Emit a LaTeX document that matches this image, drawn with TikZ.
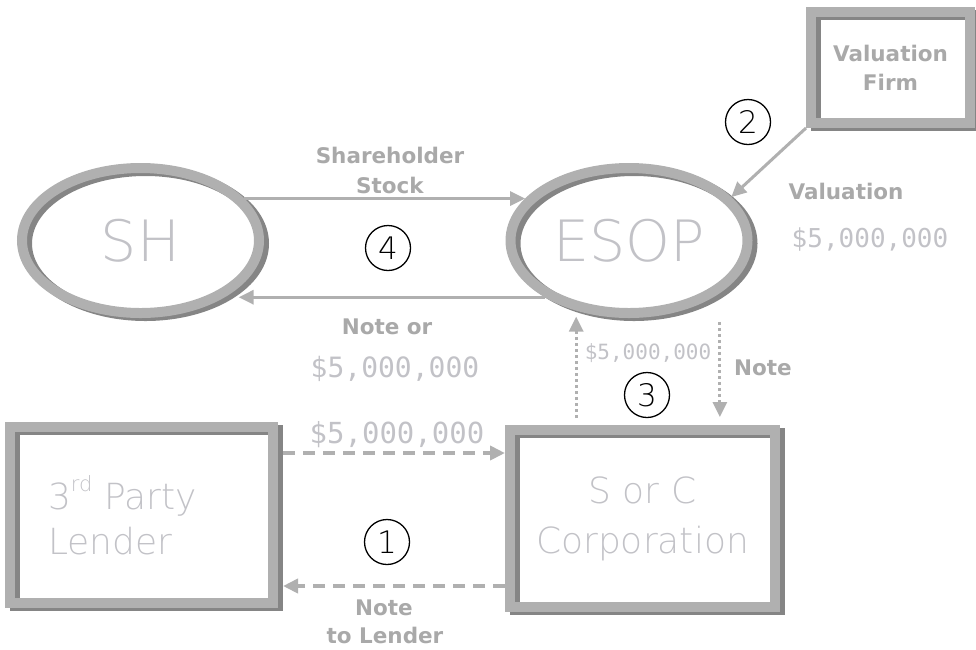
\documentclass[tikz,border=0pt]{standalone}
\usepackage{fontspec}
\setmainfont{DejaVu Sans}
\newfontfamily\thinfont{DejaVu Sans ExtraLight}
\newfontfamily\cashfont{DejaVu Sans Mono}
\usetikzlibrary{shapes.geometric,arrows.meta,shadows}

\definecolor{rim}{HTML}{B0B0B0}
\definecolor{rimdark}{HTML}{858585}
\definecolor{faint}{HTML}{C2C2C7}
\definecolor{labelgray}{HTML}{A9A9A9}

\tikzset{
  rimmed/.style={draw=rim, line width=10pt, inner sep=0pt,
    general shadow={shadow xshift=5pt, shadow yshift=-3pt, draw=rimdark, line width=10pt}},
  frame/.style={rimmed, rectangle},
  oval/.style={rimmed, ellipse, minimum width=237pt, minimum height=145pt,
    text=faint, font=\thinfont\fontsize{57}{57}\selectfont},
  num/.style={circle, draw=black, line width=1.3pt, minimum size=45pt, inner sep=0pt,
    font=\thinfont\fontsize{31}{31}\selectfont},
  lbl/.style={text=labelgray, font=\bfseries\fontsize{21.5}{26}\selectfont, inner sep=0pt},
  cash/.style={text=faint, inner sep=0pt, font=\cashfont\fontsize{#1}{#1}\selectfont},
  flow/.style={draw=rim, line width=3pt, -{Triangle[length=15pt,width=14pt]}},
  dashflow/.style={flow, line width=4pt, dash pattern=on 12pt off 8pt},
  dotflow/.style={flow, dash pattern=on 3pt off 3pt}
}

\begin{document}
\begin{tikzpicture}[x=1pt, y=-1pt]
\useasboundingbox (0,0) rectangle (976,649);

\draw (140.5,240.5) node[oval] (sh) {SH};
\draw (629,240.5) node[oval] (esop) {ESOP};
\draw (890.5,67.5) node[frame, minimum width=159pt, minimum height=111pt, align=center,
  text=labelgray, font=\bfseries\fontsize{21.5}{29}\selectfont] (val) {Valuation\\Firm};
\draw (141.5,515) node[frame, minimum width=263pt, minimum height=176pt, text width=187pt,
  align=left, text=faint, font=\thinfont\fontsize{36}{45}\selectfont] (lender)
  {3\raisebox{0.9ex}{\fontsize{21}{21}\selectfont rd} Party\\Lender};
\draw (642.5,518.5) node[frame, minimum width=265pt, minimum height=177pt, align=center,
  text=faint, font=\thinfont\fontsize{36}{50}\selectfont] (corp) {S or C\\Corporation};

\draw [flow] (sh.22) -- (sh.22 -| esop.158);
\draw [flow, shorten >=14pt] (esop.-146) -- (esop.-146 -| sh.-34);
\draw [flow] (val.south west) -- (esop.23);
\draw [dotflow, shorten <=7pt, shorten >=6pt] (corp.north -| esop.-127) -- (esop.-127);
\draw [dotflow, shorten <=29pt, shorten >=8pt] (esop.-30) -- (esop.-30 |- corp.north);
\draw [dashflow, shorten <=5pt] (lender.east |- 0,453) -- (corp.west |- 0,453);
\draw [dashflow, shorten >=5pt] (corp.west |- 0,586) -- (lender.east |- 0,586);

\node[lbl, anchor=base] (stocka) at (390,163) {Shareholder};
\node[lbl, anchor=base] (stockb) at (390,193) {Stock};
\node[lbl, anchor=base] (noteor) at (387,334) {Note or};
\node[cash=28, anchor=base] (paysh) at (395,377) {\$5,000,000};
\node[lbl, anchor=base] (valtxt) at (846,199) {Valuation};
\node[cash=26, anchor=base] (valcash) at (870,247) {\$5,000,000};
\node[cash=21, anchor=base] (esopcash) at (648,359) {\$5,000,000};
\node[lbl, anchor=base] (notec) at (763,375) {Note};
\node[cash=29, anchor=base] (loan) at (397,443) {\$5,000,000};
\node[lbl, anchor=base] (notela) at (384,615) {Note};
\node[lbl, anchor=base] (notelb) at (385,643) {to Lender};

\node[num] (n1) at (387,542) {1};
\node[num] (n2) at (748,122) {2};
\node[num] (n3) at (647,395) {3};
\node[num] (n4) at (388,248) {4};

\end{tikzpicture}
\end{document}
